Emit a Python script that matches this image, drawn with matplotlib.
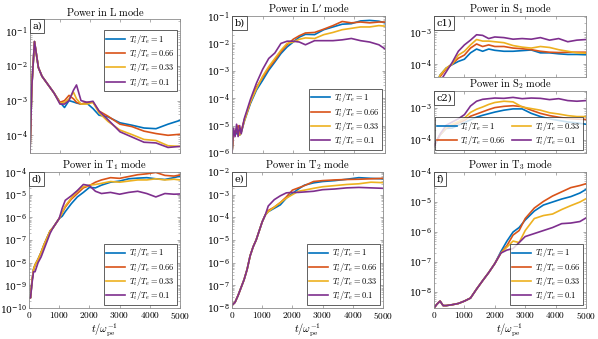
import numpy as np
import matplotlib
matplotlib.use('Agg')
import matplotlib.pyplot as plt
from matplotlib.ticker import LogLocator, NullFormatter, FuncFormatter, FixedLocator
from matplotlib.offsetbox import AnchoredText

plt.rcParams['mathtext.fontset'] = 'cm'
plt.rcParams['font.family'] = 'serif'
plt.rcParams['font.serif'] = ['DejaVu Serif']

colors = ['#0072BD', '#D95319', '#EDB120', '#7E2F8E']
ratios = ['1', '0.66', '0.33', '0.1']

# ---------------- data (log10 of power) ----------------
# panel a: L mode
a_t = [0, 60, 150, 280, 400, 600, 800, 1000, 1150, 1300, 1450, 1550, 1700, 1900, 2100, 2300, 2600, 3000, 3400, 3800, 4200, 4600, 5000]
a_early = [-4.5, -2.6, -1.3, -2.05, -2.3, -2.54, -2.78]
a_blue = a_early + [-3.05, -3.2, -3.0, -3.04, -3.07, -3.1, -3.08, -3.23, -3.42, -3.47, -3.64, -3.71, -3.79, -3.81, -3.68, -3.57]
a_orange = a_early + [-3.05, -3.0, -2.85, -2.95, -3.05, -3.1, -3.05, -3.05, -3.3, -3.45, -3.68, -3.75, -3.88, -3.95, -4.0, -3.97]
a_yellow = a_early + [-3.08, -3.05, -2.95, -2.76, -2.95, -3.1, -3.1, -3.05, -3.35, -3.6, -3.85, -3.98, -4.12, -4.15, -4.3, -4.32]
a_purple = a_early + [-3.1, -3.1, -3.0, -2.7, -2.55, -3.0, -3.05, -3.02, -3.3, -3.55, -3.9, -4.05, -4.2, -4.22, -4.35, -4.32]

# panel b: L' mode
b_t = [0, 50, 100, 150, 200, 250, 300, 400, 600, 800, 1000, 1200, 1400, 1600, 1800, 2000, 2200, 2400, 2700, 3000, 3300, 3600, 3900, 4200, 4500, 4800, 5000]
b_blue = [-6.0, -5.3, -5.2, -5.3, -5.05, -5.35, -5.25, -4.85, -4.2, -3.7, -3.35, -2.98, -2.68, -2.37, -2.13, -1.95, -1.77, -1.67, -1.68, -1.5, -1.4, -1.3, -1.28, -1.18, -1.16, -1.19, -1.25]
b_orange = [-6.0, -5.2, -5.3, -5.2, -5.0, -5.3, -5.2, -4.8, -4.15, -3.6, -3.25, -2.9, -2.62, -2.3, -2.05, -1.85, -1.72, -1.62, -1.6, -1.48, -1.35, -1.2, -1.25, -1.22, -1.25, -1.22, -1.22]
b_yellow = [-6.0, -5.3, -5.2, -5.1, -5.1, -5.35, -5.25, -4.85, -4.15, -3.65, -3.2, -2.85, -2.55, -2.25, -2.0, -1.95, -1.85, -1.8, -1.82, -1.68, -1.6, -1.5, -1.45, -1.4, -1.4, -1.35, -1.37]
b_purple = [-6.0, -5.1, -5.4, -4.95, -5.4, -5.0, -5.3, -4.75, -4.05, -3.45, -2.95, -2.55, -2.35, -2.0, -1.92, -1.92, -1.95, -2.05, -1.9, -1.9, -1.9, -1.87, -1.82, -1.9, -1.95, -2.05, -2.2]

# panel c1: S1 mode
c_t = [0, 200, 400, 600, 800, 1000, 1200, 1400, 1600, 1800, 2000, 2300, 2600, 2900, 3200, 3500, 3800, 4100, 4400, 4700, 5000]
c1_blue = [-4.8, -4.35, -4.13, -4.02, -3.92, -3.85, -3.65, -3.53, -3.6, -3.53, -3.57, -3.6, -3.6, -3.58, -3.56, -3.65, -3.65, -3.68, -3.7, -3.7, -3.71]
c1_orange = [-4.85, -4.4, -4.15, -4.0, -3.82, -3.72, -3.5, -3.37, -3.45, -3.4, -3.45, -3.45, -3.5, -3.52, -3.55, -3.6, -3.63, -3.64, -3.63, -3.63, -3.63]
c1_yellow = [-4.8, -4.35, -4.13, -4.0, -3.72, -3.6, -3.4, -3.23, -3.28, -3.28, -3.3, -3.33, -3.42, -3.47, -3.5, -3.45, -3.48, -3.55, -3.6, -3.65, -3.66]
c1_purple = [-5.0, -4.55, -4.25, -3.95, -3.6, -3.4, -3.25, -3.08, -3.1, -3.2, -3.15, -3.17, -3.22, -3.2, -3.22, -3.17, -3.25, -3.2, -3.3, -3.25, -3.23]

# panel c2: S2 mode
c2_blue = [-4.21, -3.85, -3.65, -3.64, -3.55, -3.47, -3.38, -3.3, -3.24, -3.19, -3.14, -3.08, -3.04, -3.04, -3.18, -3.28, -3.35, -3.4, -3.45, -3.48, -3.52]
c2_orange = [-4.21, -3.85, -3.64, -3.57, -3.48, -3.4, -3.27, -3.2, -3.13, -3.06, -3.0, -2.96, -2.94, -2.97, -3.08, -3.18, -3.25, -3.3, -3.34, -3.36, -3.37]
c2_yellow = [-4.21, -3.85, -3.62, -3.52, -3.44, -3.33, -3.15, -3.05, -2.98, -2.9, -2.84, -2.8, -2.82, -2.98, -3.03, -3.08, -3.16, -3.2, -3.25, -3.28, -3.28]
c2_purple = [-4.21, -3.83, -3.55, -3.45, -3.35, -3.22, -2.95, -2.8, -2.74, -2.72, -2.7, -2.71, -2.68, -2.72, -2.7, -2.71, -2.75, -2.72, -2.78, -2.8, -2.78]

# panel d: T1 mode
d_t = [0, 50, 100, 150, 200, 300, 400, 500, 600, 700, 800, 900, 1000, 1100, 1200, 1400, 1600, 1800, 2000, 2200, 2400, 2700, 3000, 3300, 3600, 3900, 4200, 4500, 4800, 5000]
d_early = [-9.55, -9.55, -8.8, -8.3, -8.1]
d_blue = d_early + [-7.85, -7.55, -7.2, -6.9, -6.6, -6.45, -6.25, -6.05, -5.95, -5.75, -5.4, -5.1, -4.9, -4.68, -4.7, -4.58, -4.45, -4.4, -4.3, -4.27, -4.25, -4.3, -4.33, -4.25, -4.18]
d_orange = d_early + [-7.85, -7.55, -7.2, -6.9, -6.6, -6.45, -6.25, -6.05, -5.8, -5.55, -5.2, -4.95, -4.7, -4.6, -4.45, -4.35, -4.25, -4.28, -4.2, -4.12, -4.08, -4.02, -4.15, -4.18, -4.13]
d_yellow = d_early + [-7.85, -7.55, -7.2, -6.9, -6.6, -6.45, -6.25, -6.05, -5.8, -5.5, -5.15, -4.85, -4.65, -4.58, -4.55, -4.5, -4.42, -4.45, -4.4, -4.35, -4.35, -4.3, -4.35, -4.32, -4.35]
d_purple = [-9.55, -9.55, -8.9, -8.4, -8.4, -8.0, -7.75, -7.4, -7.05, -6.7, -6.45, -6.25, -6.05, -5.6, -5.25, -5.05, -4.82, -4.55, -4.6, -4.85, -4.95, -4.9, -4.98, -4.9, -4.85, -4.95, -5.1, -4.95, -4.98, -4.97]

# panel e: T2 mode
e_t = [0, 100, 200, 300, 400, 500, 600, 700, 800, 900, 1000, 1100, 1200, 1400, 1600, 1800, 2000, 2200, 2400, 2700, 3000, 3400, 3800, 4200, 4600, 5000]
e_early = [-7.88, -7.75, -7.45, -7.1, -6.75, -6.3, -5.7, -5.3, -5.0, -4.6, -4.2, -3.9]
e_blue = e_early + [-3.75, -3.6, -3.45, -3.15, -2.95, -2.75, -2.58, -2.48, -2.42, -2.38, -2.32, -2.25, -2.28, -2.3]
e_orange = e_early + [-3.7, -3.55, -3.35, -3.1, -2.8, -2.7, -2.6, -2.42, -2.38, -2.35, -2.33, -2.32, -2.3, -2.28]
e_yellow = e_early + [-3.75, -3.55, -3.35, -3.15, -3.0, -2.85, -2.8, -2.72, -2.65, -2.6, -2.55, -2.52, -2.45, -2.47]
e_purple = e_early + [-3.5, -3.22, -3.05, -2.92, -2.9, -2.9, -2.88, -2.85, -2.78, -2.75, -2.7, -2.68, -2.7, -2.72]

# panel f: T3 mode
f_t = [0, 100, 200, 300, 400, 600, 800, 1000, 1200, 1400, 1600, 1800, 2000, 2200, 2400, 2600, 2800, 3000, 3300, 3600, 3900, 4200, 4500, 4800, 5000]
f_early = [-8.53, -8.4, -8.3, -8.45, -8.45, -8.42, -8.38, -8.3, -8.2, -7.9, -7.62, -7.35, -7.05]
f_blue = f_early + [-6.65, -6.3, -6.0, -5.85, -5.6, -5.3, -5.1, -5.0, -4.9, -4.82, -4.7, -4.58]
f_orange = f_early + [-6.7, -6.45, -6.1, -5.95, -5.55, -5.2, -4.98, -4.8, -4.66, -4.52, -4.45, -4.39]
f_yellow = f_early + [-6.7, -6.5, -6.3, -6.35, -5.95, -5.55, -5.45, -5.4, -5.25, -5.12, -5.0, -4.89]
f_purple = f_early + [-6.7, -6.6, -6.55, -6.35, -6.15, -6.05, -5.95, -5.85, -5.72, -5.7, -5.65, -5.53]

x_ticks = [0, 1000, 2000, 3000, 4000, 5000]

W, H = 598.0, 339.0
def rect(l, t, r, b):
    return [l / W, 1 - b / H, (r - l) / W, (b - t) / H]

panels = [
    dict(rect=rect(30, 19, 180, 153), t=a_t, s=[a_blue, a_orange, a_yellow, a_purple],
         ylim=(10**-4.51, 10**-0.65), title=r'$\mathrm{Power\ in\ L\ mode}$', lab='a)',
         leg=dict(loc='upper right', bbox_to_anchor=(1.0, 0.94)), xl=False),
    dict(rect=rect(232, 16, 385, 153), t=b_t, s=[b_blue, b_orange, b_yellow, b_purple],
         ylim=(1e-6, 1e-1), title=r"$\mathrm{Power\ in\ L'\ mode}$", lab='b)',
         leg=dict(loc='lower right'), xl=False),
    dict(rect=rect(434, 16, 586, 77), t=c_t, s=[c1_blue, c1_orange, c1_yellow, c1_purple],
         ylim=(10**-4.41, 10**-2.49), title=r'$\mathrm{Power\ in\ S_1\ mode}$', lab='c1)',
         leg=None, xl=False),
    dict(rect=rect(434, 91, 586, 153), t=c_t, s=[c2_blue, c2_orange, c2_yellow, c2_purple],
         ylim=(10**-4.42, 10**-2.48), title=r'$\mathrm{Power\ in\ S_2\ mode}$', lab='c2)',
         leg=dict(loc='lower right', ncol=2, columnspacing=0.8), xl=False),
    dict(rect=rect(29, 172, 180, 308), t=d_t, s=[d_blue, d_orange, d_yellow, d_purple],
         ylim=(1e-10, 1e-4), title=r'$\mathrm{Power\ in\ T_1\ mode}$', lab='d)',
         leg=dict(loc='lower right'), xl=True),
    dict(rect=rect(232, 172, 383, 308), t=e_t, s=[e_blue, e_orange, e_yellow, e_purple],
         ylim=(1e-8, 1e-2), title=r'$\mathrm{Power\ in\ T_2\ mode}$', lab='e)',
         leg=dict(loc='lower right'), xl=True),
    dict(rect=rect(434, 172, 586, 308), t=f_t, s=[f_blue, f_orange, f_yellow, f_purple],
         ylim=(10**-8.53, 1e-4), title=r'$\mathrm{Power\ in\ T_3\ mode}$', lab='f)',
         leg=dict(loc='lower right'), xl=True),
]

fig = plt.figure(figsize=(5.98, 3.39), dpi=100)
spine_col = '0.55'
for p in panels:
    ax = fig.add_axes(p['rect'])
    for vals, c, r in zip(p['s'], colors, ratios):
        ax.semilogy(p['t'], 10.0 ** np.array(vals), color=c, lw=1.2,
                    label=r'$T_i/T_e = %s$' % r)
    ax.set_xlim(0, 5000)
    ax.set_ylim(*p['ylim'])
    ax.xaxis.set_major_locator(FixedLocator(x_ticks))
    if p['xl']:
        ax.xaxis.set_major_formatter(FuncFormatter(lambda v, pos: r'$%d$' % int(round(v))))
        ax.set_xlabel(r'$t/\omega_{\rm pe}^{-1}$', fontsize=7.5, labelpad=0)
    else:
        ax.set_xticklabels([])
    ax.yaxis.set_major_locator(LogLocator(base=10, numticks=20))
    ax.yaxis.set_minor_locator(LogLocator(base=10, subs=np.arange(2, 10), numticks=20))
    ax.yaxis.set_minor_formatter(NullFormatter())
    ax.tick_params(which='both', direction='in', top=True, right=True,
                   labelsize=6.7, color=spine_col, pad=1.5)
    ax.tick_params(which='major', length=2.5, width=0.5)
    ax.tick_params(which='minor', length=1.3, width=0.4)
    for sp in ax.spines.values():
        sp.set_color(spine_col)
        sp.set_linewidth(0.6)
    ax.set_title(p['title'], fontsize=7.5, pad=2)
    at = AnchoredText(p['lab'], loc='upper left', frameon=True, borderpad=0.0, pad=0.25,
                      prop=dict(size=7))
    at.patch.set_boxstyle('square,pad=0')
    at.patch.set_edgecolor('0.25')
    at.patch.set_linewidth(0.6)
    ax.add_artist(at)
    if p['leg'] is not None:
        leg = ax.legend(fontsize=6, frameon=True, fancybox=False, handlelength=2.3,
                        handletextpad=0.4, borderpad=0.3, labelspacing=0.15,
                        borderaxespad=0.4, **p['leg'])
        leg.get_frame().set_edgecolor('0.1')
        leg.get_frame().set_linewidth(0.6)

fig.savefig('out.png', dpi=100)
